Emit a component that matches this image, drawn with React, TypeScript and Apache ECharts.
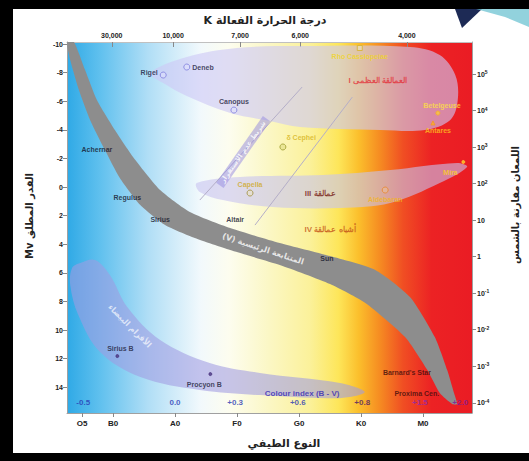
import React, { useEffect, useRef } from "react";
import * as echarts from "echarts";

// ---------- axes ----------
const spectralPos = [0.5, 1, 2, 3, 4, 5, 6];
const spectralLabels = ["O5", "B0", "A0", "F0", "G0", "K0", "M0"];
const tempPos = [0.98, 1.97, 3.05, 4.02, 5.74];
const tempLabels = ["30,000", "10,000", "7,000", "6,000", "4,000"];
const magTicks = [-10, -8, -6, -4, -2, 0, 2, 4, 6, 8, 10, 12, 14];
const lumExponents = [-4, -3, -2, -1, 0, 1, 2, 3, 4, 5];

// ---------- colour index (B-V) ----------
const colourIndexPos = [0.52, 2.0, 2.97, 3.98, 5.02, 5.95, 6.6];
const colourIndexLabels = ["-0.5", "0.0", "+0.3", "+0.6", "+0.8", "+1.5", "+2.0"];
const colourIndexMag = 15.1;

// ---------- regions (spectral index, absolute magnitude) ----------
const mainSeqUpper = [
  [0.37, -10.14], [0.55, -8.18], [0.74, -6.08], [1.03, -3.99], [1.36, -1.89], [1.76, 0.21],
  [2.24, 1.75], [2.89, 2.87], [3.69, 3.92], [4.5, 4.83], [5.23, 5.8], [5.79, 7.69],
  [6.19, 10.49], [6.39, 12.8], [6.5, 14.41], [6.55, 15.17],
];
const mainSeqLower = [
  [6.47, 15.17], [6.27, 14.41], [6.07, 12.8], [5.71, 10.49], [5.07, 8.11], [4.5, 6.78],
  [3.69, 5.45], [2.89, 4.41], [2.32, 3.57], [1.84, 2.66], [1.44, 1.26], [1.11, -0.63],
  [0.87, -2.59], [0.63, -4.69], [0.45, -6.78], [0.31, -8.88], [0.26, -10.14],
];
const supergiantRegion = [
  [1.6, -7.97], [2.19, -9.09], [3.0, -9.72], [4.02, -9.86], [5.79, -9.79], [6.27, -9.23],
  [6.52, -7.83], [6.56, -6.08], [6.44, -4.69], [6.03, -3.99], [5.31, -3.99], [4.02, -4.2],
  [3.53, -4.62], [2.89, -5.17], [2.19, -6.36], [1.81, -7.27],
];
const giantRegion = [
  [2.35, -0.28], [3.05, -0.7], [4.39, -0.84], [5.47, -1.19], [6.55, -1.68], [6.71, -1.4],
  [6.27, -0.28], [5.47, 1.12], [4.66, 1.47], [3.58, 1.4], [2.77, 0.91], [2.4, 0.35],
];
const whiteDwarfRegion = [
  [0.47, 5.31], [0.71, 5.1], [0.95, 6.15], [1.23, 8.39], [1.76, 10.7], [2.56, 12.31],
  [3.37, 13.0], [4.66, 13.7], [5.06, 14.34], [4.66, 14.76], [3.37, 14.55], [2.4, 14.2],
  [1.44, 13.29], [0.79, 11.54], [0.44, 8.95], [0.31, 6.85], [0.34, 5.66],
];
const instabilityLeft = [[2.4, 0.91], [4.05, -6.99]];
const instabilityRight = [[3.29, 2.66], [4.86, -6.29]];

// ---------- stars ----------
const starNames = ["Rigel", "Deneb", "Canopus", "Rho Cassiopeiae", "Betelgeuse", "Antares", "Mira", "Aldebaran", "Capella", "δ Cephei", "Sirius B", "Procyon B"];
const starX = [1.81, 2.19, 2.95, 4.98, 6.24, 6.16, 6.65, 5.39, 3.21, 3.74, 1.07, 2.57];
const starMag = [-7.83, -8.39, -5.38, -9.72, -5.17, -4.48, -1.75, 0.21, 0.42, -2.8, 11.82, 13.08];

const labelNames = ["Achernar", "Regulus", "Sirius", "Altair", "Sun", "Barnard's Star", "Proxima Cen."];
const labelX = [0.74, 1.23, 1.76, 2.97, 4.45, 5.74, 5.9];
const labelMag = [-2.59, 0.7, 2.24, 2.24, 4.97, 13.0, 14.41];

const regionNames = ["I العمالقة العظمى", "III عمالقة", "IV أشباه عمالقة", "(V) المتتابعة الرئيسية", "الأقزام البيضاء", "شريط عدم الاستقرار", "Colour index (B - V)"];
const regionX = [5.27, 4.34, 4.5, 3.42, 1.27, 3.1, 4.05];
const regionMag = [-7.48, 0.42, 3.0, 4.34, 9.72, -2.45, 14.41];

// ---------- styles (kept apart from data) ----------
const LAT = "'Liberation Sans', Arial, sans-serif";
const AR = "'DejaVu Sans', sans-serif";

const starStyle: Record<string, any> = {
  "Rigel": { symbol: "circle", size: 6, stroke: "#7d7ddc", fill: "rgba(225,225,255,0.6)", pos: "left", color: "#1b1b3c", offset: [0, -3] },
  "Deneb": { symbol: "circle", size: 6, stroke: "#7d7ddc", fill: "rgba(225,225,255,0.6)", pos: "right", color: "#1b1b3c", offset: [0, 0] },
  "Canopus": { symbol: "circle", size: 6, stroke: "#7d7ddc", fill: "rgba(225,225,255,0.6)", pos: "top", color: "#1b1b3c", offset: [0, 0] },
  "Rho Cassiopeiae": { symbol: "rect", size: 5, stroke: "#d6b22a", fill: "rgba(255,255,200,0.4)", pos: "bottom", color: "#f2d51e", offset: [0, 0] },
  "Betelgeuse": { symbol: "circle", size: 4, stroke: "#f7b021", fill: "#f9c840", pos: "top", color: "#ffe33c", offset: [4, 0] },
  "Antares": { symbol: "triangle", size: 4, stroke: "#f59a1e", fill: "#f7b030", pos: "bottom", color: "#ffc61e", offset: [5, 0] },
  "Mira": { symbol: "circle", size: 3, stroke: "#ffd030", fill: "#ffd030", pos: "bottom", color: "#ffd21e", offset: [-13, 3] },
  "Aldebaran": { symbol: "circle", size: 6, stroke: "#e8862a", fill: "rgba(255,220,150,0.3)", pos: "bottom", color: "#f3b420", offset: [0, 0] },
  "Capella": { symbol: "circle", size: 6, stroke: "#9c8c3a", fill: "rgba(255,240,150,0.3)", pos: "top", color: "#cfa81e", offset: [0, 0] },
  "δ Cephei": { symbol: "circle", size: 6, stroke: "#9a9a2c", fill: "rgba(200,200,80,0.4)", pos: "right", color: "#d6b41c", offset: [-2, -9] },
  "Sirius B": { symbol: "circle", size: 3, stroke: "#4a3580", fill: "#4a3580", pos: "top", color: "#1e1e3a", offset: [3, 0] },
  "Procyon B": { symbol: "circle", size: 3, stroke: "#4a3580", fill: "#4a3580", pos: "bottom", color: "#1e1e3a", offset: [-6, 3] },
};
const labelColor: Record<string, string> = {
  "Achernar": "#15152a", "Regulus": "#15152a", "Sirius": "#15152a", "Altair": "#15152a", "Sun": "#15152a",
  "Barnard's Star": "#3c0c0c", "Proxima Cen.": "#3c0c0c",
};
const regionStyle: Record<string, any> = {
  "I العمالقة العظمى": { color: "#e3343c", size: 8, rotate: 0 },
  "III عمالقة": { color: "#7a2418", size: 8, rotate: 0 },
  "IV أشباه عمالقة": { color: "#c4561a", size: 8, rotate: 0 },
  "(V) المتتابعة الرئيسية": { color: "#ffffff", size: 8, rotate: -18 },
  "الأقزام البيضاء": { color: "rgba(255,255,255,0.85)", size: 8, rotate: -45 },
  "شريط عدم الاستقرار": { color: "#ffffff", size: 7, rotate: 55, bg: "rgba(150,140,225,0.65)" },
  "Colour index (B - V)": { color: "#3327b4", size: 8, rotate: 0 },
};
const colourIndexColors = ["#2838b4", "#2838b4", "#2838b4", "#2838b4", "#4a1a66", "#8a2ab0", "#7a1a9c"];

function findLabel(pos: number[], labels: string[], v: number) {
  const i = pos.findIndex((p) => Math.abs(p - v) < 1e-6);
  return i >= 0 ? labels[i] : "";
}

function polygonSeries(pts: number[][], fill: string, smooth: number, z: number) {
  return {
    type: "custom",
    coordinateSystem: "cartesian2d",
    xAxisIndex: 0,
    yAxisIndex: 0,
    silent: true,
    clip: true,
    z,
    data: pts,
    renderItem: (params: any, api: any) => {
      if (params.dataIndex !== 0) return null;
      const points = pts.map((p) => api.coord(p));
      return { type: "polygon", shape: { points, smooth }, style: { fill, stroke: "none" } };
    },
  };
}

export default function App() {
  const ref = useRef<HTMLDivElement>(null);
  useEffect(() => {
    document.body.style.margin = "0";
    const chart = echarts.init(ref.current!, null, { renderer: "svg" });

    const bg = new echarts.graphic.LinearGradient(0, 0, 1, 0, [
      { offset: 0, color: "#2fa9e6" },
      { offset: 0.08, color: "#5fc0ee" },
      { offset: 0.2, color: "#b0def6" },
      { offset: 0.33, color: "#f2f9fc" },
      { offset: 0.4, color: "#fdfdef" },
      { offset: 0.5, color: "#fbf7c4" },
      { offset: 0.6, color: "#fbf19a" },
      { offset: 0.67, color: "#fde65a" },
      { offset: 0.72, color: "#fbbf2c" },
      { offset: 0.77, color: "#f68e22" },
      { offset: 0.83, color: "#f04e23" },
      { offset: 0.9, color: "#ec2224" },
      { offset: 1, color: "#ea1c24" },
    ]);

    const starData = starNames.map((n, i) => {
      const s = starStyle[n];
      return {
        name: n,
        value: [starX[i], starMag[i]],
        symbol: s.symbol,
        symbolSize: s.size,
        itemStyle: { color: s.fill, borderColor: s.stroke, borderWidth: 1 },
        label: { show: true, position: s.pos, distance: 2, offset: s.offset, color: s.color, formatter: n },
      };
    });

    const textData = labelNames.map((n, i) => ({
      name: n,
      value: [labelX[i], labelMag[i]],
      label: { show: true, position: "inside", color: labelColor[n], formatter: n },
    }));

    const regionTextData = regionNames.map((n, i) => {
      const s = regionStyle[n];
      return {
        name: n,
        value: [regionX[i], regionMag[i]],
        label: {
          show: true, position: "inside", color: s.color, fontSize: s.size, rotate: s.rotate,
          fontFamily: /[A-Za-z]/.test(n[0]) ? LAT : AR, formatter: n,
          backgroundColor: s.bg || "transparent", padding: s.bg ? [1, 4] : 0,
        },
      };
    });

    const ciData = colourIndexLabels.map((t, i) => ({
      name: t,
      value: [colourIndexPos[i], colourIndexMag],
      label: { show: true, position: "inside", color: colourIndexColors[i], formatter: t },
    }));

    const axisLabelBase = { color: "#222", fontFamily: LAT, fontWeight: "bold", fontSize: 7 };

    const option: any = {
      animation: false,
      backgroundColor: "transparent",
      grid: { left: 67, right: 57, top: 42, bottom: 48, show: true, backgroundColor: bg, borderWidth: 0 },
      xAxis: [
        {
          type: "value", position: "bottom", min: 0.258, max: 6.79,
          axisLine: { show: true, onZero: false, lineStyle: { color: "#a0a0a0", width: 1 } },
          axisTick: { show: true, customValues: spectralPos, length: 4, lineStyle: { color: "#888" } },
          axisLabel: { ...axisLabelBase, fontSize: 8, margin: 6, customValues: spectralPos, formatter: (v: number) => findLabel(spectralPos, spectralLabels, v) },
          splitLine: { show: false },
        },
        {
          type: "value", position: "top", min: 0.258, max: 6.79,
          axisLine: { show: true, onZero: false, lineStyle: { color: "#c0c0c0", width: 1 } },
          axisTick: { show: true, inside: true, customValues: tempPos, length: 5, lineStyle: { color: "#888" } },
          axisLabel: { ...axisLabelBase, margin: 3, customValues: tempPos, formatter: (v: number) => findLabel(tempPos, tempLabels, v) },
          splitLine: { show: false },
        },
      ],
      yAxis: [
        {
          type: "value", inverse: true, min: -10.14, max: 15.8,
          axisLine: { show: true, onZero: false, lineStyle: { color: "#a0a0a0", width: 1 } },
          axisTick: { show: true, customValues: magTicks, length: 4, lineStyle: { color: "#888" } },
          axisLabel: { ...axisLabelBase, margin: 4, customValues: magTicks, formatter: (v: number) => String(v) },
          splitLine: { show: false },
        },
        {
          type: "value", position: "right", min: -4.28, max: 5.88,
          axisLine: { show: true, onZero: false, lineStyle: { color: "#a0a0a0", width: 1 } },
          axisTick: { show: true, customValues: lumExponents, length: 4, lineStyle: { color: "#888" } },
          axisLabel: {
            ...axisLabelBase, margin: 5, customValues: lumExponents,
            formatter: (v: number) => (v === 0 ? "1" : v === 1 ? "10" : `10{s|${v}}`),
            rich: { s: { fontSize: 5, fontWeight: "bold", fontFamily: LAT, color: "#222", verticalAlign: "top", padding: [0, 0, 4, 0] } },
          },
          splitLine: { show: false },
        },
      ],
      graphic: [
        { type: "polygon", shape: { points: [[455, 9], [482, 9], [462, 28]] }, style: { fill: "#1d2a55" }, z: 10 },
        { type: "polygon", shape: { points: [[476, 9], [529, 9], [529, 27], [505, 17]] }, style: { fill: "rgba(110,195,210,0.75)" }, z: 10 },
        { type: "text", x: 265, y: 20, style: { text: "K درجة الحرارة الفعالة", font: `bold 11px ${AR}`, fill: "#222", textAlign: "center", textVerticalAlign: "middle" }, z: 10 },
        { type: "text", x: 284, y: 443, style: { text: "النوع الطيفي", font: `bold 11px ${AR}`, fill: "#222", textAlign: "center", textVerticalAlign: "middle" }, z: 10 },
        { type: "text", x: 29, y: 216, rotation: Math.PI / 2, style: { text: "Mv القدر المطلق", font: `bold 10px ${AR}`, fill: "#222", textAlign: "center", textVerticalAlign: "middle" }, z: 10 },
        { type: "text", x: 515, y: 205, rotation: Math.PI / 2, style: { text: "اللمعان مقارنة بالشمس", font: `bold 10px ${AR}`, fill: "#222", textAlign: "center", textVerticalAlign: "middle" }, z: 10 },
      ],
      series: [
        polygonSeries(supergiantRegion, "rgba(205,200,245,0.62)", 0.35, 2),
        polygonSeries(giantRegion, "rgba(200,195,240,0.6)", 0.35, 2),
        polygonSeries(whiteDwarfRegion, "rgba(160,155,225,0.58)", 0.35, 2),
        polygonSeries([...mainSeqUpper, ...mainSeqLower], "#8d8d8d", 0.2, 3),
        { type: "line", data: instabilityLeft, symbol: "none", silent: true, z: 4, lineStyle: { color: "#b4aec8", width: 1 } },
        { type: "line", data: instabilityRight, symbol: "none", silent: true, z: 4, lineStyle: { color: "#b4aec8", width: 1 } },
        {
          type: "scatter", data: regionTextData, symbolSize: 0, silent: true, z: 5,
          label: { show: true, fontWeight: "bold" },
        },
        {
          type: "scatter", data: starData, silent: true, z: 6,
          label: { show: true, fontSize: 7, fontFamily: LAT, fontWeight: "bold" },
        },
        {
          type: "scatter", data: textData, symbolSize: 0, silent: true, z: 6,
          label: { show: true, fontSize: 7, fontFamily: LAT, fontWeight: "bold" },
        },
        {
          type: "scatter", data: ciData, symbolSize: 0, silent: true, z: 6,
          label: { show: true, fontSize: 8, fontFamily: LAT, fontWeight: "bold" },
        },
      ],
    };

    chart.setOption(option);
    return () => chart.dispose();
  }, []);

  return (
    <div style={{ position: "relative", width: 529, height: 461, background: "#000", overflow: "hidden" }}>
      <div style={{ position: "absolute", left: 13, top: 9, width: 516, height: 444, background: "#fff" }} />
      <div ref={ref} style={{ position: "absolute", left: 0, top: 0, width: 529, height: 461 }} />
    </div>
  );
}
